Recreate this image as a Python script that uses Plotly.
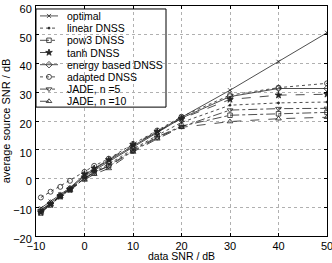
import plotly.graph_objects as go

snr = [-9, -7, -5, -3, 0, 2, 5, 10, 15, 20, 30, 40, 50]

optimal = [-10.3, -8.0, -5.5, -3.2, 1.3, 3.3, 6.3, 11.3, 16.3, 21.3, 30.7, 40.6, 50.7]
linear = [-11.5, -9.0, -6.0, -3.6, 0.3, 2.4, 5.0, 10.2, 15.0, 19.5, 25.5, 26.3, 26.6]
pow3 = [-12.0, -9.2, -6.3, -4.0, 0.0, 2.0, 4.5, 9.8, 14.5, 18.2, 22.0, 22.5, 23.0]
tanh = [-11.8, -9.0, -6.2, -3.8, 1.5, 3.5, 6.5, 11.8, 16.3, 20.8, 27.5, 29.0, 29.3]
energy = [-11.0, -8.5, -5.8, -3.5, 0.8, 2.8, 5.8, 11.0, 16.0, 21.0, 28.5, 31.3, 31.3]
adapted = [-6.6, -4.6, -2.9, -0.8, 2.3, 4.4, 6.9, 12.0, 16.7, 21.5, 29.0, 31.6, 33.1]
jade5 = [-11.2, -8.7, -6.0, -3.7, 0.0, 2.2, 4.2, 9.5, 14.2, 18.0, 23.8, 24.3, 24.4]
jade10 = [-11.6, -9.0, -6.2, -4.0, -0.5, 1.5, 3.5, 9.2, 13.8, 17.8, 19.8, 20.8, 21.3]

names = ["optimal", "linear DNSS", "pow3 DNSS", "tanh DNSS", "energy based DNSS",
         "adapted DNSS", "JADE, n =5", "JADE, n =10"]
series = [optimal, linear, pow3, tanh, energy, adapted, jade5, jade10]
dashes = ["solid", "dot", "dashdot", "dash", "solid", "dot", "dashdot", "dash"]
symbols = ["x-thin-open", "circle", "square-open", "star", "diamond-open",
           "circle-open", "triangle-down-open", "triangle-up-open"]
sizes = [4, 2, 4.5, 5, 5, 5, 5, 5]

FONT = "Liberation Sans, Arial, sans-serif"
LC = "#222222"

fig = go.Figure()
for nm, ys, d, s, sz in zip(names, series, dashes, symbols, sizes):
    fig.add_trace(go.Scatter(
        x=snr, y=ys, name=nm, mode="lines+markers",
        line=dict(color=LC, width=0.8, dash=d),
        marker=dict(symbol=s, size=sz, color=LC, line=dict(color=LC, width=0.8)),
        showlegend=False))

# custom compact legend on an overlay axis measured in pixels of the plot area
L_X0, L_X1, L_Y0, L_Y1 = 0, 130, 3, 102
for i, (nm, d, s, sz) in enumerate(zip(names, dashes, symbols, sizes)):
    yy = 10 + 12.3 * i
    fig.add_trace(go.Scatter(
        x=[4, 13, 22], y=[yy, yy, yy], mode="lines", xaxis="x2", yaxis="y2",
        line=dict(color=LC, width=0.8, dash=d), showlegend=False, hoverinfo="skip"))
    fig.add_trace(go.Scatter(
        x=[13], y=[yy], mode="markers", xaxis="x2", yaxis="y2",
        marker=dict(symbol=s, size=sz, color=LC, line=dict(color=LC, width=0.8)),
        showlegend=False, hoverinfo="skip"))
    fig.add_annotation(x=29, y=yy, xref="x2", yref="y2", text=nm, showarrow=False,
                       xanchor="left", yanchor="middle",
                       font=dict(family=FONT, size=10.5, color="black"))
fig.add_shape(type="rect", xref="x2", yref="y2", x0=L_X0, x1=L_X1, y0=L_Y0, y1=L_Y1,
              line=dict(color="black", width=1), fillcolor="white", layer="below")

# x-axis title placed just under the tick labels
fig.add_annotation(x=0.5, y=0, xref="paper", yref="paper", text="data SNR / dB",
                   showarrow=False, xanchor="center", yanchor="bottom", yshift=-27,
                   borderpad=0, font=dict(family=FONT, size=10.5, color="black"))

axis_common = dict(showline=True, linecolor="black", linewidth=1, mirror="ticks",
                   ticks="inside", ticklen=3, tickcolor="black",
                   showgrid=True, gridcolor="#b0b0b0", griddash="dot", gridwidth=1,
                   zeroline=False, ticklabeloverflow="allow", automargin=False,
                   tickfont=dict(family=FONT, size=11, color="black"))

fig.update_layout(
    width=332, height=263,
    margin=dict(l=36, r=5, t=6, b=27),
    paper_bgcolor="white", plot_bgcolor="white",
    font=dict(family=FONT, size=11, color="black"),
    xaxis=dict(range=[-10, 50], dtick=10, tick0=-10, ticklabelstandoff=0, **axis_common),
    yaxis=dict(range=[-20, 60], dtick=10, tick0=-20, ticklabelshift=3, ticklabelstandoff=1,
               title=dict(text="average source SNR / dB", standoff=4, font=dict(size=11)),
               **axis_common),
    xaxis2=dict(overlaying="x", range=[0, 291], visible=False, fixedrange=True),
    yaxis2=dict(overlaying="y", range=[232, 0], visible=False, fixedrange=True),
)

fig.write_html("out.html")
